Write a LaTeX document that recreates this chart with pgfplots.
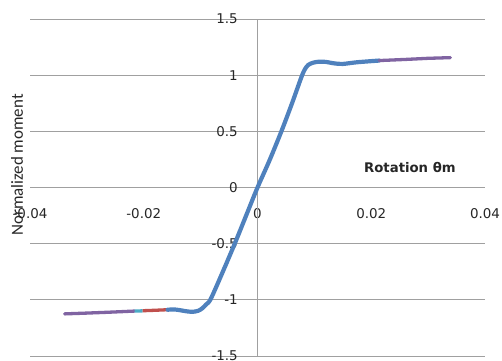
\documentclass[border=0pt]{standalone}
\usepackage{pgfplots}
\pgfplotsset{compat=1.18}
\usepackage{fontspec}
\setmainfont{DejaVu Sans}
\newfontfamily\carlito{Carlito}
\usetikzlibrary{calc}
\definecolor{xblue}{HTML}{4F81BD}
\definecolor{xred}{HTML}{C0504D}
\definecolor{xpurple}{HTML}{8064A2}
\definecolor{xcyan}{HTML}{4BACC6}
\definecolor{gridgray}{HTML}{A0A0A0}
\begin{document}
\begin{tikzpicture}
\begin{axis}[
  scale only axis, width=455bp, height=337bp,
  xmin=-0.04, xmax=0.04, ymin=-1.5, ymax=1.5,
  axis line style={draw=none},
  scaled x ticks=false, scaled y ticks=false,
  xtick={-0.04,-0.02,0,0.02,0.04},
  xticklabels={-0.04,-0.02,0,0.02,0.04},
  ytick={-1.5,-1,-0.5,0,0.5,1,1.5},
  yticklabels={-1.5,-1,-0.5,0,0.5,1,1.5},
  extra x ticks={0}, extra x tick labels={},
  extra x tick style={grid=major},
  major tick length=0pt,
  ymajorgrids, grid style={gridgray, line width=0.9bp},
  xticklabel style={anchor=north, inner sep=0pt, yshift=148bp, font=\fontsize{13.5}{13.5}\selectfont, text=black!85},
  yticklabel style={anchor=east, inner sep=0pt, xshift=208bp, font=\fontsize{13.5}{13.5}\selectfont, text=black!85},
  every axis x label/.style={at={(rel axis cs:0.835,0.558)}, anchor=center, font=\fontsize{13.3}{13.3}\selectfont\bfseries, text=black!85},
  every axis y label/.style={at={(rel axis cs:-0.0286,0.567)}, anchor=center, rotate=90, font=\carlito\fontsize{17}{17}\selectfont, text=black!85},
  xlabel={Rotation θm},
  ylabel={Normalized moment},
  clip=false,
]
\coordinate (LL) at (rel axis cs:0,0);
\addplot[xpurple, line width=3.3bp, line cap=round] coordinates {
  (-0.0339,-1.125) (-0.030,-1.118) (-0.026,-1.11) (-0.0216,-1.100)
};
\addplot[xcyan, line width=3.3bp] coordinates {
  (-0.0216,-1.100) (-0.0202,-1.098)
};
\addplot[xred, line width=3.3bp] coordinates {
  (-0.0202,-1.097) (-0.018,-1.093) (-0.0158,-1.088)
};
\addplot[xblue, line width=4.2bp, smooth, tension=0.5, line cap=round] coordinates {
  (-0.0158,-1.088) (-0.0145,-1.086) (-0.0132,-1.096) (-0.0122,-1.104)
  (-0.0113,-1.106) (-0.0104,-1.097) (-0.0097,-1.075) (-0.0090,-1.04)
  (-0.0082,-0.99) (-0.0061,-0.75) (-0.0040,-0.5) (-0.0020,-0.25)
  (0,0) (0.0021,0.24) (0.0042,0.5) (0.0060,0.74) (0.0077,0.98)
  (0.0083,1.05) (0.0089,1.09) (0.0097,1.11) (0.0108,1.12) (0.0120,1.118)
  (0.0135,1.105) (0.0150,1.10) (0.0175,1.115) (0.0214,1.13)
};
\addplot[xpurple, line width=3.3bp, line cap=round] coordinates {
  (0.0214,1.13) (0.026,1.14) (0.030,1.15) (0.0339,1.156)
};
\end{axis}
\pgfresetboundingbox
\path[use as bounding box] ($(LL)+(-30bp,-5bp)$) rectangle ++(502bp,361bp);
\end{tikzpicture}
\end{document}
